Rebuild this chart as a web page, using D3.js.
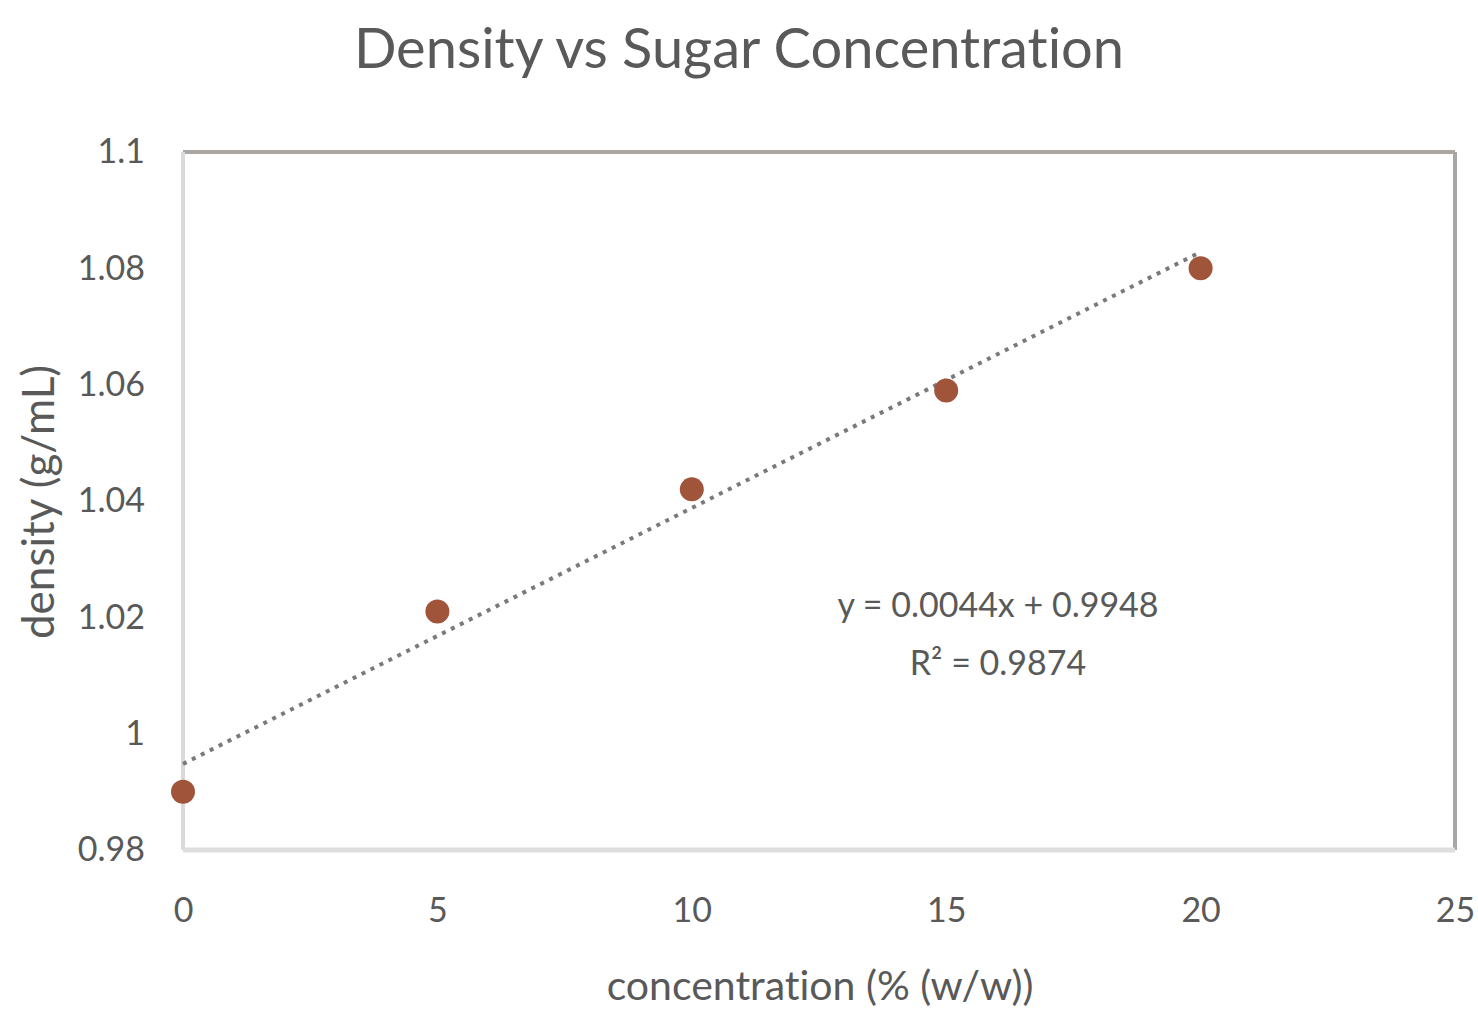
<!DOCTYPE html>
<html>
<head>
<meta charset="utf-8">
<script src="https://cdn.jsdelivr.net/npm/d3@7"></script>
<style>
  body { margin: 0; background: #fff; }
  text { font-family: Lato, "Open Sans", sans-serif; fill: #595959; font-variant-ligatures: none; }
</style>
</head>
<body>
<div id="chart-area"></div>
<script>
// data
var concentration = [0, 5, 10, 15, 20];
var density = [0.990, 1.021, 1.042, 1.059, 1.080];
var xTicks = [0, 5, 10, 15, 20, 25];
var yTicks = [0.98, 1, 1.02, 1.04, 1.06, 1.08, 1.1];
var slope = 0.0044, intercept = 0.9948;
var trendText = ["y = 0.0044x + 0.9948", "R\u00b2 = 0.9874"];

var W = 1478, H = 1009;
var margin = { left: 183, right: 23, top: 152, bottom: 159 };
var w = W - margin.left - margin.right;
var h = H - margin.top - margin.bottom;

var svg = d3.select("#chart-area").append("svg")
    .attr("width", W).attr("height", H);

var g = svg.append("g")
    .attr("transform", "translate(" + margin.left + "," + margin.top + ")");

var xScale = d3.scaleLinear().domain([0, 25]).range([0, w]);
var yScale = d3.scaleLinear().domain([0.98, 1.1]).range([h, 0]);

// frame: top/right darker, left/bottom light
g.append("line").attr("x1", 0).attr("x2", w).attr("y1", 0).attr("y2", 0)
    .attr("stroke", "#aaa6a3").attr("stroke-width", 4);
g.append("line").attr("x1", w).attr("x2", w).attr("y1", 0).attr("y2", h)
    .attr("stroke", "#aaa6a3").attr("stroke-width", 4);
g.append("line").attr("x1", 0).attr("x2", 0).attr("y1", 0).attr("y2", h)
    .attr("stroke", "#d9d9d9").attr("stroke-width", 4);
g.append("line").attr("x1", 0).attr("x2", w).attr("y1", h).attr("y2", h)
    .attr("stroke", "#dedede").attr("stroke-width", 5);

var xAxis = d3.axisBottom(xScale).tickValues(xTicks).tickSize(0).tickPadding(48)
    .tickFormat(d3.format("d"));
var yAxis = d3.axisLeft(yScale).tickValues(yTicks).tickSize(0).tickPadding(38)
    .tickFormat(function (d) { return d === 1 ? "1" : d3.format("")(+d.toFixed(2)); });

var gx = g.append("g").attr("transform", "translate(0," + h + ")").call(xAxis);
var gy = g.append("g").call(yAxis);
[gx, gy].forEach(function (a) {
    a.select(".domain").remove();
    a.selectAll("text").attr("font-size", "34px").style("fill", "#595959")
        .attr("font-family", "Lato, sans-serif");
});

// trendline
g.append("line")
    .attr("x1", xScale(0)).attr("y1", yScale(intercept))
    .attr("x2", xScale(20)).attr("y2", yScale(slope * 20 + intercept))
    .attr("stroke", "#7a7a7a").attr("stroke-width", 4)
    .attr("stroke-dasharray", "4,6");

// points
g.selectAll("circle")
    .data(concentration)
    .enter()
    .append("circle")
    .attr("cx", function (d) { return xScale(d); })
    .attr("cy", function (d, i) { return yScale(density[i]); })
    .attr("r", 12)
    .attr("fill", "#a0543a");

// equation
g.selectAll(".eq")
    .data(trendText)
    .enter()
    .append("text")
    .attr("class", "eq")
    .attr("x", 998 - margin.left)
    .attr("y", function (d, i) { return 617 - margin.top + i * 58; })
    .attr("text-anchor", "middle")
    .attr("font-size", "34px")
    .text(function (d) { return d; });

// title
svg.append("text")
    .attr("x", 739).attr("y", 68)
    .attr("text-anchor", "middle")
    .attr("font-size", "56px")
    .text("Density vs Sugar Concentration");

svg.append("text")
    .attr("x", 820).attr("y", 1000)
    .attr("text-anchor", "middle")
    .attr("font-size", "41px")
    .text("concentration (% (w/w))");

svg.append("text")
    .attr("transform", "translate(54,502) rotate(-90)")
    .attr("text-anchor", "middle")
    .attr("font-size", "44px")
    .text("density (g/mL)");
</script>
</body>
</html>
